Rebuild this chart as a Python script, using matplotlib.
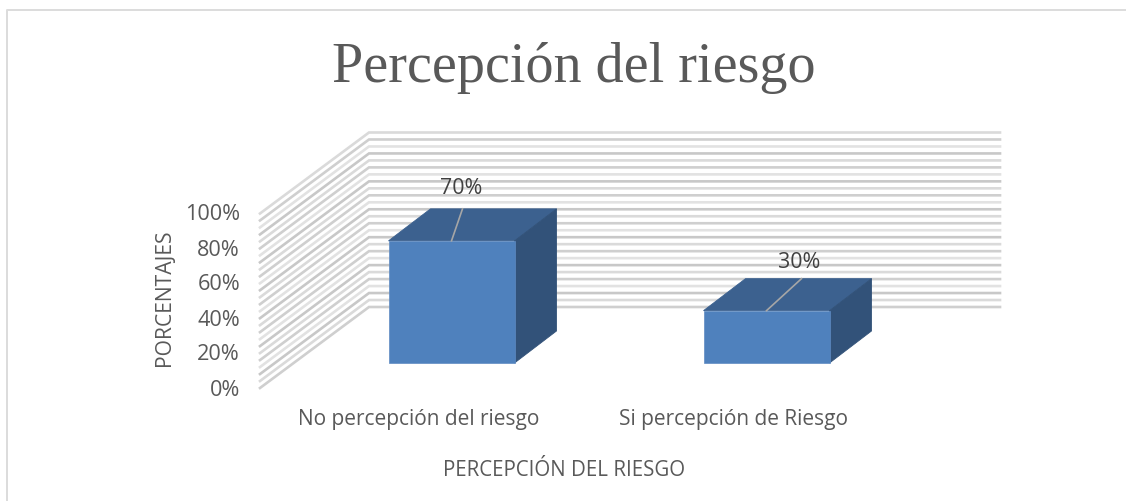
import matplotlib
matplotlib.use("Agg")
import matplotlib.pyplot as plt
from matplotlib.patches import Polygon, Rectangle

categories = ["No percepción del riesgo", "Si percepción de Riesgo"]
values = [70, 30]
value_labels = ["70%", "30%"]
y_ticks = [0, 20, 40, 60, 80, 100]
grid_step = 4
title = "Percepción del riesgo"
x_title = "PERCEPCIÓN DEL RIESGO"
y_title = "PORCENTAJES"

W, H = 1126, 501
X0, SX = 451.5, 315.0     # pixel of category 0, pixels per category
Y0, SY = 363.0, 1.745     # pixel of value 0 (bar front), pixels per percent
BW = 126 / SX
DX, DY = 42 / SX, 32 / SY  # bar depth in data units
WALL_L = (260 - X0) / SX
WALL_B = (369 - X0) / SX
WALL_R = (1000 - X0) / SX
W_FRONT = (363 - 388) / SY
W_BACK = (363 - 307) / SY

TXT = "#595959"
plt.rcParams["font.family"] = ["Open Sans", "DejaVu Sans"]
fig = plt.figure(figsize=(W / 100, H / 100), dpi=100, facecolor="white")
ax = fig.add_axes([0, 0, 1, 1])
ax.set_xlim((0 - X0) / SX, (W - X0) / SX)
ax.set_ylim((Y0 - H) / SY, Y0 / SY)
ax.axis("off")


def px(p):
    return (p - X0) / SX


def py(p):
    return (Y0 - p) / SY


# outer frame: only the top and left edges are visible
ax.plot([px(6.5), px(6.5), px(1126)], [py(501), py(10), py(10)],
        color="#dcdcdc", lw=1.4, zorder=1)

# walls
for i, g in enumerate(range(0, 101, grid_step)):
    shade = ["#cfcfcf", "#dadada", "#c8c8c8", "#e2e2e2"][i % 4]
    ax.plot([WALL_L, WALL_B, WALL_R],
            [W_FRONT + g, W_BACK + g, W_BACK + g],
            color=shade, lw=1.9, solid_joinstyle="miter", zorder=2)

# bars
for i, v in enumerate(values):
    l, r = i - BW / 2, i + BW / 2
    ax.add_patch(Polygon([(l, v), (r, v), (r + DX, v + DY), (l + DX, v + DY)],
                         fc="#3c618f", ec="#3c618f", lw=0.6, zorder=3))
    ax.add_patch(Polygon([(r, 0), (r + DX, DY), (r + DX, v + DY), (r, v)],
                         fc="#325279", ec="#325279", lw=0.6, zorder=3))
    ax.add_patch(Rectangle((l, 0), BW, v, fc="#4f81bd", ec="#5f8bc2", lw=0.5, zorder=4))

# leader lines and value labels
ax.plot([0, 11 / SX], [values[0], values[0] + 32 / SY], color="#a6a6a6", lw=1.2, zorder=5)
ax.plot([1, 1 + 35 / SX], [values[1], values[1] + 32 / SY], color="#a6a6a6", lw=1.2, zorder=5)
ax.text(px(461.5), py(188), value_labels[0], color="#404040", fontsize=15.4,
        ha="center", va="center", zorder=6)
ax.text(px(799.5), py(262), value_labels[1], color="#404040", fontsize=15.4,
        ha="center", va="center", zorder=6)

# y tick labels
for t in y_ticks:
    ax.text(px(240), W_FRONT + t * (388 - 213) / 100 / SY - 2 / SY, f"{t}%", color=TXT,
            fontsize=15.6, ha="right", va="center")

# category labels
ax.text(px(419), py(420), categories[0], color=TXT, fontsize=15, ha="center", va="center")
ax.text(px(733.5), py(420), categories[1], color=TXT, fontsize=15, ha="center", va="center")

# titles
ax.text(px(564.5), py(470), x_title, color=TXT, fontsize=14.8, ha="center", va="center")
ax.text(px(164), py(298), y_title, color=TXT, fontsize=15.2, rotation=90, ha="center", va="center")
ax.text(px(573.5), py(68), title, color=TXT, fontsize=40.4, ha="center", va="center",
        family=["Liberation Serif", "DejaVu Serif"])

fig.savefig("out.png", dpi=100, facecolor="white")
